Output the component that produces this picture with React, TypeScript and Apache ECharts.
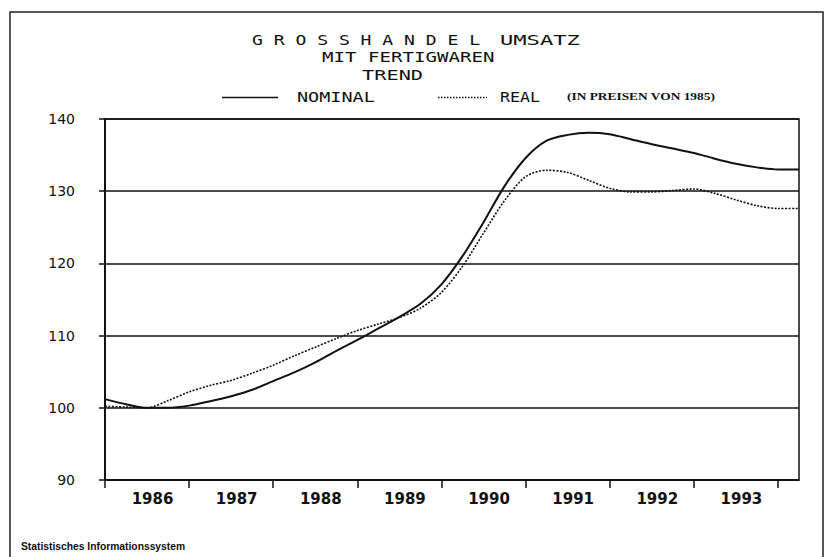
import React, { useEffect, useRef } from "react";
import * as echarts from "echarts";

// Quarter-year positions (time axis)
const quarters = [
  1986.0, 1986.25, 1986.5, 1986.75, 1987.0, 1987.25, 1987.5, 1987.75,
  1988.0, 1988.25, 1988.5, 1988.75, 1989.0, 1989.25, 1989.5, 1989.75,
  1990.0, 1990.25, 1990.5, 1990.75, 1991.0, 1991.25, 1991.5, 1991.75,
  1992.0, 1992.25, 1992.5, 1992.75, 1993.0, 1993.25, 1993.5, 1993.75,
  1994.0, 1994.25,
];

// NOMINAL trend (solid)
const nominal = [
  101.2, 100.5, 100.0, 100.0, 100.3, 100.9, 101.6, 102.5,
  103.7, 104.9, 106.3, 107.9, 109.4, 111.0, 112.6, 114.4,
  117.1, 121.0, 125.7, 130.7, 134.6, 137.0, 137.8, 138.1,
  137.9, 137.2, 136.5, 135.9, 135.3, 134.5, 133.8, 133.3,
  133.0, 133.0,
];

// REAL trend, prices of 1985 (dotted)
const real = [
  100.2, 100.1, 100.0, 101.0, 102.2, 103.1, 103.8, 104.8,
  105.9, 107.2, 108.4, 109.6, 110.7, 111.6, 112.5, 113.8,
  116.0, 119.6, 124.2, 128.7, 132.0, 132.9, 132.6, 131.5,
  130.4, 129.9, 129.9, 130.1, 130.3, 129.7, 128.8, 128.0,
  127.6, 127.6,
];

// Year boundaries (tick marks) and year labels
const yearTicks = [1986, 1987, 1988, 1989, 1990, 1991, 1992, 1993, 1994];
const yearLabels = [1986, 1987, 1988, 1989, 1990, 1991, 1992, 1993];

const INK = "#111";
const PLOT = "DejaVu Sans Mono";

export default function App() {
  const ref = useRef<HTMLDivElement>(null);

  useEffect(() => {
    if (!ref.current) return;
    const chart = echarts.init(ref.current, undefined, { renderer: "svg" });

    const plotText = (text: string, x: number, y: number, sx: number) => ({
      type: "text",
      x,
      y,
      scaleX: sx,
      silent: true,
      style: {
        text,
        fill: INK,
        fontFamily: PLOT,
        fontSize: 14,
        textAlign: "left",
        textVerticalAlign: "middle",
      },
    });

    const option: any = {
      animation: false,
      backgroundColor: "#fff",
      grid: {
        left: 105,
        right: 32,
        top: 119,
        bottom: 77,
        show: true,
        borderColor: INK,
        borderWidth: 1.5,
        backgroundColor: "transparent",
      },
      xAxis: {
        type: "value",
        min: 1986,
        max: 1994.25,
        splitLine: { show: false },
        axisLine: { show: true, lineStyle: { color: INK, width: 1.5 } },
        axisTick: {
          show: true,
          customValues: yearTicks,
          length: 8,
          lineStyle: { color: INK, width: 1.5 },
        },
        axisLabel: {
          customValues: yearLabels.map((y) => y + 0.565),
          formatter: (v: number) => String(Math.floor(v)),
          color: INK,
          fontFamily: "DejaVu Sans",
          fontWeight: "bold",
          fontSize: 15,
          margin: 11,
        },
      },
      yAxis: {
        type: "value",
        min: 90,
        max: 140,
        interval: 10,
        axisLine: { show: true, lineStyle: { color: INK, width: 2 } },
        axisTick: { show: true, length: 6, lineStyle: { color: INK, width: 1.5 } },
        splitLine: { show: true, lineStyle: { color: INK, width: 1.5 } },
        axisLabel: {
          color: INK,
          fontFamily: "DejaVu Sans",
          fontSize: 14,
          margin: 30,
        },
      },
      series: [
        {
          name: "NOMINAL",
          type: "line",
          data: quarters.map((q, i) => [q, nominal[i]]),
          showSymbol: false,
          smooth: 0.3,
          lineStyle: { color: INK, width: 2 },
          z: 5,
        },
        {
          name: "REAL",
          type: "line",
          data: quarters.map((q, i) => [q, real[i]]),
          showSymbol: false,
          smooth: 0.3,
          lineStyle: { color: INK, width: 1.6, type: [2, 1.5] },
          z: 5,
        },
      ],
      graphic: [
        {
          type: "rect",
          silent: true,
          shape: { x: 10, y: 12, width: 813, height: 560 },
          style: { fill: "none", stroke: "#222", lineWidth: 1.5 },
        },
        plotText("G R O S S H A N D E L", 252, 40, 1.29),
        plotText("UMSATZ", 500, 40, 1.58),
        plotText("MIT FERTIGWAREN", 322, 57, 1.365),
        plotText("TREND", 362, 75, 1.45),
        {
          type: "line",
          silent: true,
          shape: { x1: 222, y1: 97.5, x2: 278, y2: 97.5 },
          style: { stroke: INK, lineWidth: 1.5 },
        },
        plotText("NOMINAL", 297, 97.5, 1.32),
        {
          type: "line",
          silent: true,
          shape: { x1: 438, y1: 97.5, x2: 487, y2: 97.5 },
          style: { stroke: INK, lineWidth: 1.4, lineDash: [1.5, 1.5] },
        },
        plotText("REAL", 500, 97.5, 1.19),
        {
          type: "text",
          x: 567,
          y: 97,
          scaleX: 1.34,
          silent: true,
          style: {
            text: "(IN PREISEN VON 1985)",
            fill: INK,
            fontFamily: "Liberation Serif",
            fontWeight: "bold",
            fontSize: 10,
            textAlign: "left",
            textVerticalAlign: "middle",
          },
        },
        {
          type: "text",
          x: 21,
          y: 547,
          scaleX: 1.03,
          silent: true,
          style: {
            text: "Statistisches Informationssystem",
            fill: INK,
            fontFamily: "Liberation Sans",
            fontWeight: "bold",
            fontSize: 10,
            textAlign: "left",
            textVerticalAlign: "middle",
          },
        },
      ],
    };

    chart.setOption(option);
    return () => chart.dispose();
  }, []);

  return (
    <div
      ref={ref}
      style={{ position: "absolute", left: 0, top: 0, width: 831, height: 557 }}
    />
  );
}
